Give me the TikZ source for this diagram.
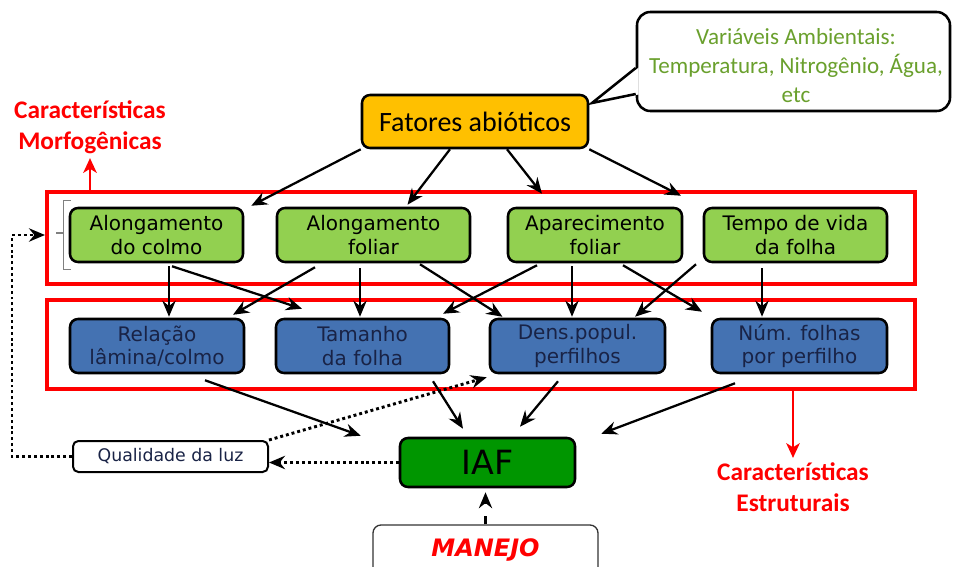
\documentclass[tikz,border=0pt]{standalone}
\usepackage{fontspec}
\setmainfont{DejaVu Sans}
\newfontfamily\carlito{Carlito}
\usetikzlibrary{arrows.meta,calc}
\definecolor{gbox}{HTML}{92D050}
\definecolor{bbox}{RGB}{68,114,178}
\definecolor{obox}{HTML}{FFC000}
\definecolor{iafgreen}{RGB}{0,150,0}
\definecolor{vtext}{RGB}{106,160,45}
\definecolor{navytext}{RGB}{25,35,70}
\definecolor{redline}{RGB}{255,0,0}
\begin{document}
\begin{tikzpicture}[x=0.75pt,y=-0.75pt,
  box/.style={draw=black, line width=1.9pt, rounded corners=6pt, align=center, inner sep=0pt, font=\fontsize{15}{17.5}\selectfont},
  greenbox/.style={box, fill=gbox, minimum width=#1, minimum height=40.5pt},
  bluebox/.style={box, fill=bbox, text=navytext, minimum width=#1, minimum height=40.5pt},
  group/.style={draw=redline, line width=3pt, inner sep=0pt},
  arr/.style={draw=black, line width=1.7pt, -{Stealth[length=12pt,width=10pt,inset=4pt]}},
  dotarr/.style={draw=black, line width=2.2pt, dash pattern=on 2.2pt off 2.2pt, -{Stealth[length=12pt,width=10pt,inset=4pt]}},
  redarr/.style={draw=redline, line width=2.2pt, -{Stealth[length=11pt,width=10pt,inset=3pt]}},
  redlabel/.style={text=redline, font=\carlito\bfseries\fontsize{19}{23}\selectfont, align=center}
]
\useasboundingbox (0,0) rectangle (956,567);
\clip (0,0) rectangle (956,567);

% speech bubble
\node[draw, line width=1.9pt, fill=white, rounded corners=10pt, minimum width=234.75pt, minimum height=74.25pt, inner sep=0pt] (bubble) at (793.5,61.5) {};
\fill[white] ($(bubble.west)+(3,6)$) -- (592,103) -- ($(bubble.west)+(3,33)$) -- cycle;
\draw[line width=1.9pt, line join=miter] ($(bubble.west)+(0,6.5)$) -- (592,103) -- ($(bubble.west)+(0,32.5)$);
\node[text=vtext, font=\carlito\fontsize{17.3}{21.8}\selectfont, align=center] (vars) at (796,66) {Variáveis Ambientais:\\Temperatura, Nitrogênio, Água,\\etc};

% groups
\node[group, minimum width=651pt, minimum height=69pt] (morpho) at (481,238) {};
\node[group, minimum width=651pt, minimum height=66.75pt] (estr) at (481,344.5) {};

\node[redlabel] (morfolab) at (90,127) {Características\\Morfogênicas};
\node[redlabel] (estrlab) at (793,487) {Características\\Estruturais};
\draw[redarr] (morpho.north -| morfolab) -- (morfolab.south);
\draw[redarr] (estr.south -| estrlab) -- (estrlab.north);

% main nodes
\node[box, fill=obox, minimum width=169.5pt, minimum height=39.75pt, font=\carlito\fontsize{21}{25}\selectfont] (fat) at (475,121.5) {Fatores abióticos};

\node[greenbox=129.75pt] (colmo) at (156.5,235) {Alongamento\\do colmo};
\node[greenbox=144.75pt] (foliar) at (373.5,235) {Alongamento\\foliar};
\node[greenbox=130.5pt] (aparec) at (595,235) {Aparecimento\\foliar};
\node[greenbox=137.25pt] (tempo) at (795.5,235) {Tempo de vida\\da folha};

\node[bluebox=130.5pt] (relacao) at (157,346) {Relação\\lâmina/colmo};
\node[bluebox=129.75pt] (tamanho) at (362.5,346) {Tamanho\\da folha};
\node[bluebox=131.25pt] (dens) at (577.5,346) {Dens.popul.\\perfilhos};
\node[bluebox=131.25pt] (num) at (799.5,346) {Núm. folhas\\por perfilho};

\node[draw, line width=1.5pt, rounded corners=4pt, fill=white, minimum width=146.25pt, minimum height=23.25pt, inner sep=0pt, text=navytext, font=\fontsize{13}{15}\selectfont] (qual) at (170.5,456.5) {Qualidade da luz};
\node[box, fill=iafgreen, minimum width=131.25pt, minimum height=36.75pt, font=\fontsize{25}{29}\selectfont] (iaf) at (487.5,462.5) {IAF};
\node[draw=black!80, line width=1pt, rounded corners=6pt, minimum width=168.75pt, minimum height=37.5pt, text=redline, font=\bfseries\itshape\fontsize{18}{21}\selectfont] (manejo) at (485.5,550) {MANEJO};

% bracket
\draw[gray, line width=0.8pt] ($(colmo.north west)+(2,-6)$) -- ++(-7,0) |- ($(colmo.south west)+(2,6)$);
\draw[gray, line width=0.8pt] ($(colmo.west)+(-5,-2)$) -- ++(-8,0);

% arrows from Fatores
\draw[arr] (fat.south west) -- ($(colmo.north east)+(7,-1)$);
\draw[arr] ($(fat.south)+(-25,0)$) -- ($(foliar.north)+(34,-2)$);
\draw[arr] ($(fat.south)+(32,0)$) -- ($(aparec.north)+(-53,-13)$);
\draw[arr] (fat.south east) -- ($(tempo.north)+(-114.5,-11)$);

% green -> blue
\draw[arr] ($(colmo.south)+(12.5,3)$) -- ($(relacao.north)+(12,-1)$);
\draw[arr] ($(colmo.south)+(15.5,3)$) -- ($(tamanho.north)+(-60.5,-9)$);
\draw[arr] ($(foliar.south)+(-58.5,4)$) -- ($(relacao.north)+(76,-3)$);
\draw[arr] ($(foliar.south)+(-13.5,5)$) -- ($(tamanho.north)+(-2.5,-1)$);
\draw[arr] ($(foliar.south)+(46.5,1)$) -- ($(dens.north)+(-75,-1)$);
\draw[arr] ($(aparec.south)+(-58,2)$) -- ($(tamanho.north)+(80.5,-4)$);
\draw[arr] ($(aparec.south)+(-23,3)$) -- ($(dens.north)+(-5.5,-1)$);
\draw[arr] ($(aparec.south)+(28,2)$) -- ($(num.north)+(-97.5,-6)$);
\draw[arr] ($(tempo.south)+(-99.5,1)$) -- ($(dens.north)+(57.5,-1)$);
\draw[arr] ($(tempo.south)+(-33.5,5)$) -- ($(num.north)+(-37.5,-1)$);

% blue -> IAF
\draw[arr] ($(relacao.south)+(48,6)$) -- ($(iaf.north west)+(-38,-1)$);
\draw[arr] ($(tamanho.south)+(70.5,7)$) -- ($(iaf.north)+(-24.5,-8)$);
\draw[arr] ($(dens.south)+(-19.5,7)$) -- ($(iaf.north)+(32.5,-10)$);
\draw[arr] ($(num.south)+(-64.5,9)$) -- ($(iaf.north east)+(25,-3)$);

% dotted
\coordinate (loop) at (12,456.5);
\draw[dotarr] (qual.west) -- (loop) |- (morpho.west |- colmo.west);
\draw[dotarr] (iaf.west) -- (qual.east |- iaf.west);
\draw[dotarr] (qual.north east) -- ($(dens.south west)+(-2,3)$);

% manejo
\draw[line width=1.7pt, dash pattern=on 6pt off 9pt, -{Stealth[length=12pt,width=10pt,inset=4pt]}] (manejo.north) -- ($(manejo.north |- iaf.south)+(0,4)$);
\end{tikzpicture}
\end{document}
